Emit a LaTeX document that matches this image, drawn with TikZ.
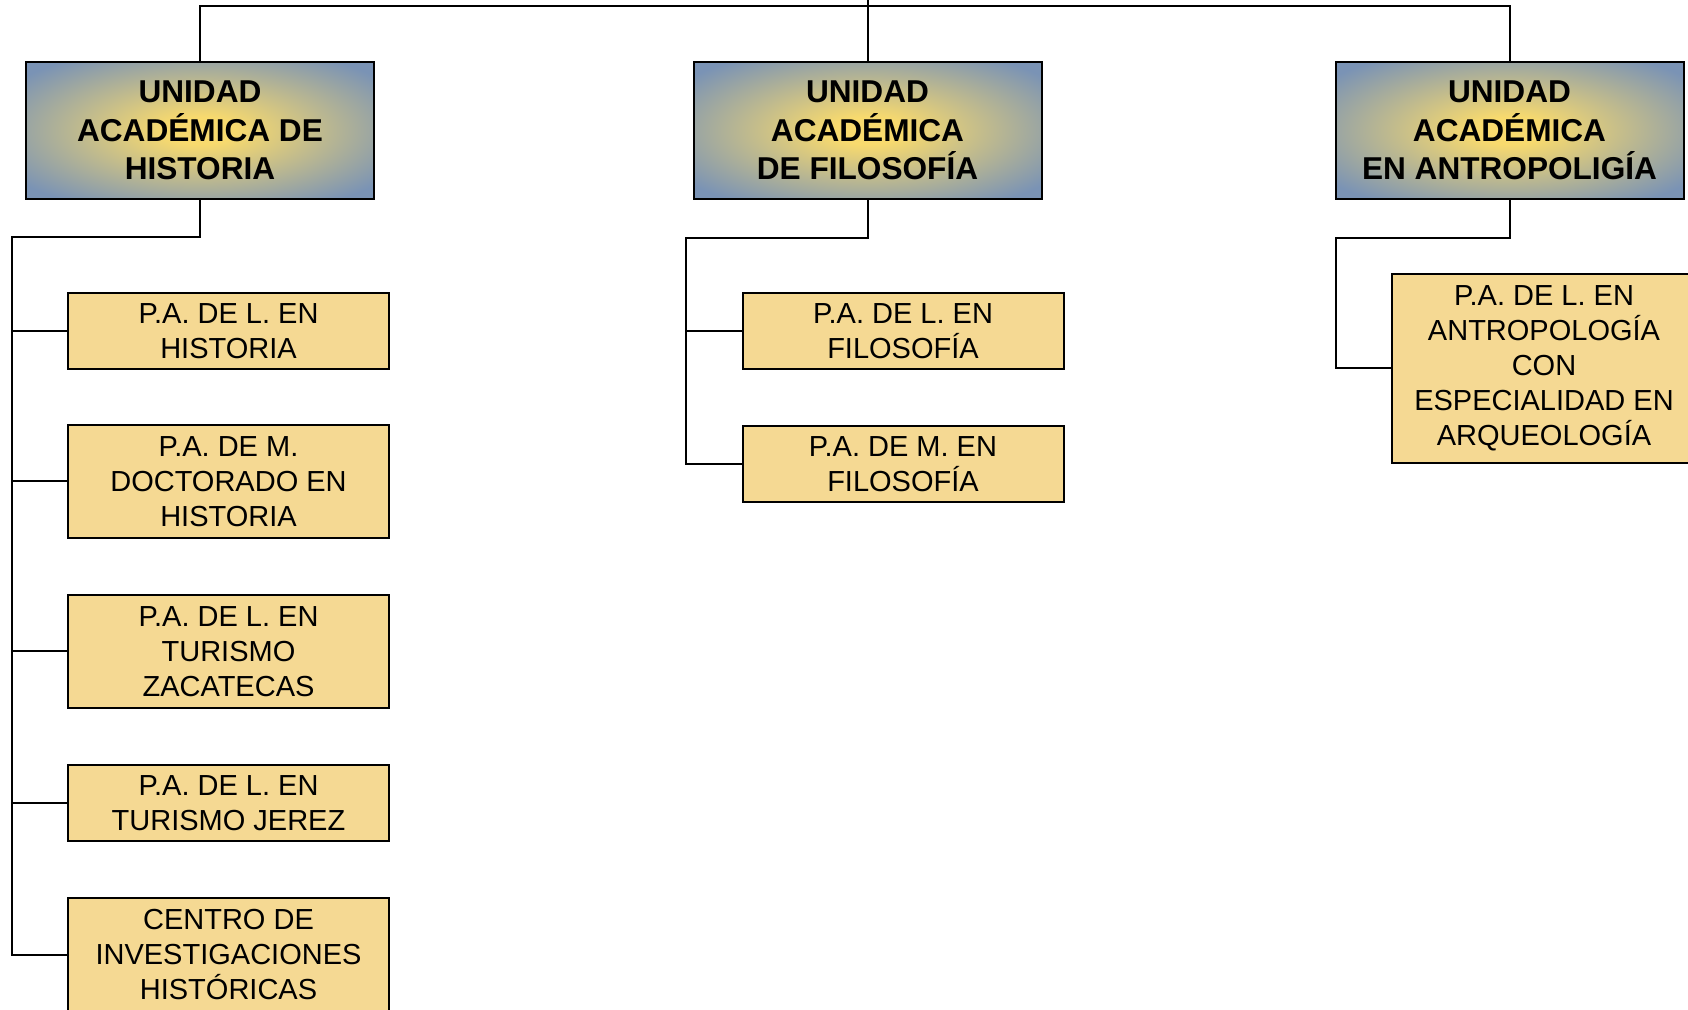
\documentclass[tikz,border=0pt]{standalone}
\usepackage{fontspec}
\setmainfont{Liberation Sans}
\usepackage{tikz}

\definecolor{azulunidad}{RGB}{122,147,181}
\definecolor{oronucleo}{RGB}{248,218,110}
\definecolor{trigo}{RGB}{245,217,147}
\pgfdeclareradialshading{brillo}{\pgfpoint{0bp}{0bp}}{%
  color(0bp)=(oronucleo); color(5bp)=(oronucleo);
  color(32bp)=(azulunidad); color(75bp)=(azulunidad)}

\begin{document}
\begin{tikzpicture}[x=0.5pt, y=-0.5pt, line width=1pt,
    unidad/.style={draw, shading=brillo, rectangle, align=center,
      minimum width=174pt, minimum height=68.5pt, inner sep=0pt, outer sep=0pt,
      font=\fontsize{15.8}{19.25}\selectfont\bfseries},
    programa/.style={draw, fill=trigo, rectangle, align=center,
      minimum width=160.5pt, inner sep=0pt, outer sep=0pt,
      font=\fontsize{14.5}{17.5}\selectfont}]
\useasboundingbox (0,0) rectangle (1688,1010);

%%% unidades academicas %%%
\node[unidad] (uah) at (200,130.5) {UNIDAD\\ACADÉMICA DE\\HISTORIA};
\node[unidad] (uaf) at (867.5,130.5) {UNIDAD\\ACADÉMICA\\DE FILOSOFÍA};
\node[unidad] (uaa) at (1509.5,130.5) {UNIDAD\\ACADÉMICA\\EN ANTROPOLIGÍA};

%% historia
\node[programa, minimum height=38pt] (h1) at (228.5,331) {P.A. DE L. EN\\HISTORIA};
\node[programa, minimum height=56.5pt] (h2) at (228.5,481.5) {P.A. DE M.\\DOCTORADO EN\\HISTORIA};
\node[programa, minimum height=56.5pt] (h3) at (228.5,651.5) {P.A. DE L. EN\\TURISMO\\ZACATECAS};
\node[programa, minimum height=38pt] (h4) at (228.5,803) {P.A. DE L. EN\\TURISMO JEREZ};
\node[programa, minimum height=56.5pt] (h5) at (228.5,954.5) {CENTRO DE\\INVESTIGACIONES\\HISTÓRICAS};

%% filosofia
\node[programa, minimum height=38pt] (f1) at (903,331) {P.A. DE L. EN\\FILOSOFÍA};
\node[programa, minimum height=38pt] (f2) at (903,464) {P.A. DE M. EN\\FILOSOFÍA};

%% antropologia
\node[programa, minimum width=152pt, minimum height=94.5pt] (a1) at (1544,368.5)
  {P.A. DE L. EN\\ANTROPOLOGÍA\\CON\\ESPECIALIDAD EN\\ARQUEOLOGÍA};

%%% conectores %%%
\coordinate (cima) at (867.5,0);
\coordinate (barra) at (867.5,6);
\draw (uah.north) |- (barra) -| (uaa.north);
\draw (uaf.north) -- (cima);

\coordinate (hcodo) at (12,237);
\draw (uah.south) |- (hcodo) |- (h5.west);
\foreach \i in {1,...,4}
  \draw (h\i.west) -- (hcodo |- h\i.west);

\coordinate (fcodo) at (686,238);
\draw (uaf.south) |- (fcodo) |- (f2.west);
\draw (f1.west) -- (fcodo |- f1.west);

\coordinate (acodo) at (1336,238);
\draw (uaa.south) |- (acodo) |- (a1.west);

\end{tikzpicture}
\end{document}
